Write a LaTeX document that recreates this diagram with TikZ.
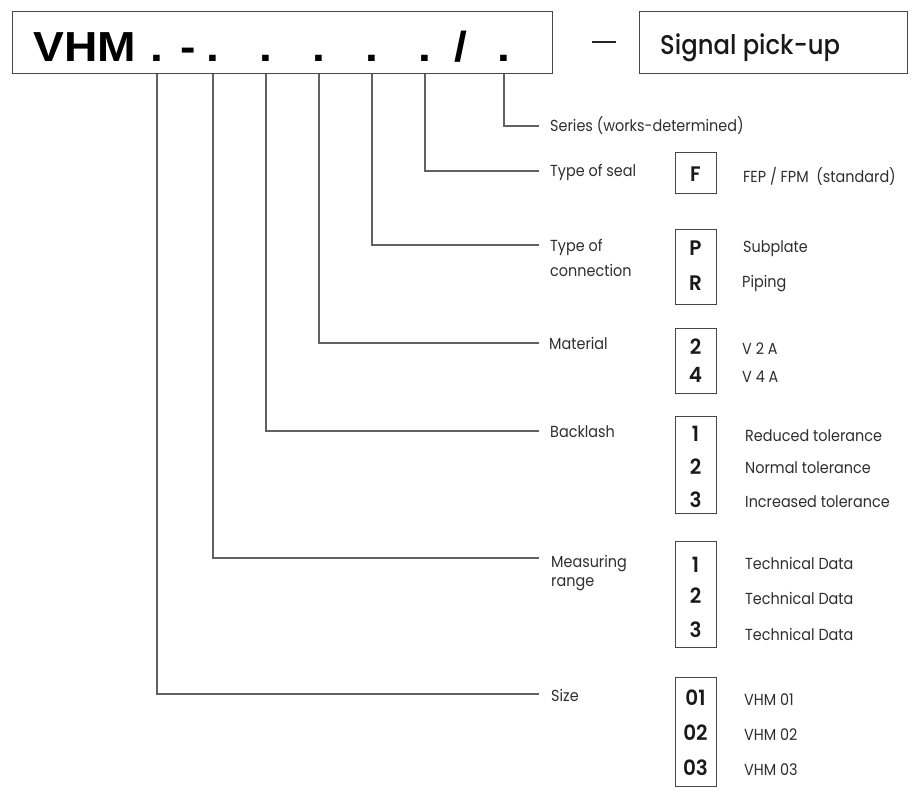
\documentclass[tikz,border=0pt]{standalone}
\usepackage{fontspec}
\setmainfont[FakeStretch=0.9]{Poppins}
\newfontfamily\sigfont[FakeStretch=0.9]{Poppins Medium}
\newfontfamily\digfont[FakeStretch=0.95]{Poppins SemiBold}
\newfontfamily\hdfont[FakeStretch=1.1]{Liberation Sans}
\tikzset{
  conn/.style={draw=black!62, line width=1.2pt},
  boxst/.style={draw=black!72, line width=1.2pt, inner sep=0pt},
  lbl/.style={anchor=base west, inner sep=0pt, align=left, text=black!82, font=\fontsize{16}{24}\selectfont},
  hd/.style={anchor=base, inner sep=0pt, font=\hdfont\bfseries\fontsize{42}{46}\selectfont},
  dig/.style={anchor=base, inner sep=0pt, text=black!90, font=\digfont\fontsize{21}{24}\selectfont},
}
\begin{document}
\begin{tikzpicture}[x=1pt,y=-1pt]
\useasboundingbox (0,0) rectangle (921,799);
% header
\node[boxst, anchor=north west, minimum width=540pt, minimum height=62pt] (mainbox) at (12,11) {};
\node[hd, anchor=base west] (vhm) at (33,62) {VHM};
\node[hd] (d1) at (157,62) {.};
\node[hd] (dash) at (188,62) {-};
\node[hd] (d2) at (213,62) {.};
\node[hd] (d3) at (266,62) {.};
\node[hd] (d4) at (319,62) {.};
\node[hd] (d5) at (372,62) {.};
\node[hd] (d6) at (425,62) {.};
\node[hd] (slash) at (461,62) {/};
\node[hd] (d7) at (504,62) {.};
\node[inner sep=0pt, text=black!85] (sep) at (604,42) {\rule{24pt}{1.6pt}};
\node[boxst, anchor=north west, minimum width=268pt, minimum height=62pt] (sigbox) at (639,11) {};
\node[anchor=base west, inner sep=0pt, font=\sigfont\fontsize{27}{30}\selectfont, text=black!90] (sig) at (660,55) {Signal pick-up};
% connector ends
\coordinate (eS) at (539,126);
\coordinate (eT) at (539,171);
\coordinate (eC) at (539,245);
\coordinate (eM) at (539,343);
\coordinate (eB) at (539,431);
\coordinate (eR) at (539,558);
\coordinate (eZ) at (539,694);
\draw[conn] (d7 |- mainbox.south) |- (eS);
\draw[conn] (d6 |- mainbox.south) |- (eT);
\draw[conn] (d5 |- mainbox.south) |- (eC);
\draw[conn] (d4 |- mainbox.south) |- (eM);
\draw[conn] (d3 |- mainbox.south) |- (eB);
\draw[conn] (d2 |- mainbox.south) |- (eR);
\draw[conn] (d1 |- mainbox.south) |- (eZ);
% labels
\node[lbl] (lS) at (550,132) {Series (works-determined)};
\node[lbl] (lT) at (550,177) {Type of seal};
\node[lbl, font=\fontsize{16}{25}\selectfont] (lC) at (550,277) {Type of\\connection};
\node[lbl] (lM) at (549,350) {Material};
\node[lbl] (lB) at (550,437) {Backlash};
\node[lbl, font=\fontsize{16}{19}\selectfont] (lR) at (551,586) {Measuring\\range};
\node[lbl] (lZ) at (551,701) {Size};
% code boxes
\node[boxst, anchor=north west, minimum width=41pt, minimum height=41pt] (bF) at (675,152) {};
\node[boxst, anchor=north west, minimum width=41pt, minimum height=75pt] (bC) at (675,229) {};
\node[boxst, anchor=north west, minimum width=41pt, minimum height=65pt] (bM) at (675,328) {};
\node[boxst, anchor=north west, minimum width=41pt, minimum height=97pt] (bB) at (675,416) {};
\node[boxst, anchor=north west, minimum width=41pt, minimum height=106pt] (bR) at (675,541) {};
\node[boxst, anchor=north west, minimum width=41pt, minimum height=109pt] (bZ) at (675,677) {};
\node[dig] (cF) at (695.5,182) {F};
\node[dig] (cP) at (695.5,256) {P};
\node[dig] (cRr) at (695.5,291) {R};
\node[dig] (cM2) at (695.5,355) {2};
\node[dig] (cM4) at (695.5,383) {4};
\node[dig] (cB1) at (695.5,442) {1};
\node[dig] (cB2) at (695.5,474) {2};
\node[dig] (cB3) at (695.5,507) {3};
\node[dig] (cR1) at (695.5,572) {1};
\node[dig] (cR2) at (695.5,603) {2};
\node[dig] (cR3) at (695.5,637) {3};
\node[dig] (cZ1) at (695.5,705) {01};
\node[dig] (cZ2) at (695.5,740) {02};
\node[dig] (cZ3) at (695.5,775) {03};
% meanings
\node[lbl] (tF) at (743,183) {FEP / FPM~~(standard)};
\node[lbl] (tP) at (743,253) {Subplate};
\node[lbl] (tR) at (742,288) {Piping};
\node[lbl] (tM2) at (742,355) {V 2 A};
\node[lbl] (tM4) at (742,383) {V 4 A};
\node[lbl] (tB1) at (745,442) {Reduced tolerance};
\node[lbl] (tB2) at (745,473) {Normal tolerance};
\node[lbl] (tB3) at (745,507) {Increased tolerance};
\node[lbl] (tR1) at (745,569) {Technical Data};
\node[lbl] (tR2) at (745,604) {Technical Data};
\node[lbl] (tR3) at (745,640) {Technical Data};
\node[lbl] (tZ1) at (744,705) {VHM 01};
\node[lbl] (tZ2) at (744,740) {VHM 02};
\node[lbl] (tZ3) at (744,775) {VHM 03};
\end{tikzpicture}
\end{document}
